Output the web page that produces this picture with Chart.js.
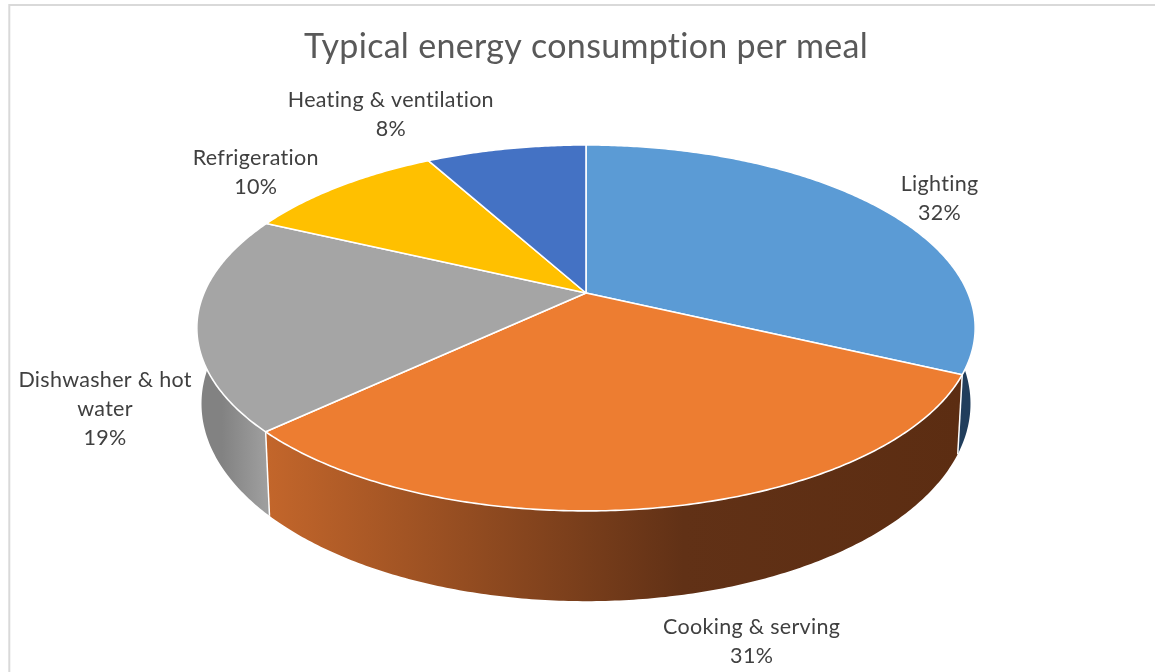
<!DOCTYPE html>
<html><head><meta charset="utf-8">
<script src="https://cdn.jsdelivr.net/npm/chart.js@4.4.0/dist/chart.umd.min.js"></script>
<style>html,body{margin:0;padding:0;background:#fff;}#wrap{position:relative;width:1155px;height:672px;}</style>
</head><body><div id="wrap"><canvas id="c" width="1155" height="672"></canvas></div>
<script>
const categories = ['Lighting', 'Cooking & serving', 'Dishwasher & hot water', 'Refrigeration', 'Heating & ventilation'];
const shares = [32, 31, 19, 10, 8];
const chartTitle = 'Typical energy consumption per meal';

const topColors = ['#5B9BD5', '#ED7D31', '#A5A5A5', '#FFC000', '#4472C4'];
const wallStops = [
  [[0, '#213e5c']],
  [[0, '#5c2d12'], [0.4, '#613116'], [1, '#c3662b']],
  [[0, '#9e9e9e'], [1, '#828282']],
  [[0, '#b08800']],
  [[0, '#2f5290']]
];
const labelOffsets = [[61, -16], [92, 126], [-92, 66], [-84, -21], [-115, -42]];

function proj(g, th, r, bottom) {
  const c = Math.cos(th) * r, sn = Math.sin(th) * r;
  const s = 1 / (1 - g.k * sn);
  let x = g.cx + g.A * c * s, y = g.cy + g.B * sn * s;
  if (bottom) { x = g.cx + (x - g.cx) * g.shrink; y += g.D * s; }
  return { x, y };
}

function wrapText(ctx, text, maxW) {
  const words = text.split(' ');
  const lines = [];
  let cur = '';
  words.forEach(w => {
    const t = cur ? cur + ' ' + w : w;
    if (cur && ctx.measureText(t).width > maxW) { lines.push(cur); cur = w; } else cur = t;
  });
  if (cur) lines.push(cur);
  return lines;
}

const pie3d = {
  id: 'pie3d',
  beforeDraw(chart, args, opts) {
    const ctx = chart.ctx;
    ctx.save();
    ctx.fillStyle = '#fff';
    ctx.fillRect(0, 0, chart.width, chart.height);
    ctx.strokeStyle = '#d9d9d9';
    ctx.lineWidth = 2;
    ctx.beginPath();
    ctx.moveTo(9.3, chart.height);
    ctx.lineTo(9.3, 5);
    ctx.lineTo(chart.width, 5);
    ctx.stroke();
    ctx.restore();
    ctx.letterSpacing = opts.letterSpacing;
  },
  geom(chart, opts) {
    const arcs = chart.getDatasetMeta(0).data;
    const R = arcs[0].outerRadius;
    return { cx: arcs[0].x, cy: arcs[0].y, A: R * opts.rx, B: R * opts.ry, k: opts.persp, D: R * opts.depth, shrink: opts.shrink };
  },
  beforeDatasetsDraw(chart, args, opts) {
    const ctx = chart.ctx;
    const arcs = chart.getDatasetMeta(0).data;
    const g = pie3d.geom(chart, opts);
    const lo = opts.wallFrom * Math.PI / 180, hi = opts.wallTo * Math.PI / 180;
    ctx.save();
    arcs.forEach((a, i) => {
      const a0 = Math.max(a.startAngle, lo), a1 = Math.min(a.endAngle, hi);
      if (a1 <= a0) return;
      const n = Math.max(8, Math.ceil((a1 - a0) / 0.01));
      ctx.beginPath();
      for (let j = 0; j <= n; j++) { const p = proj(g, a0 + (a1 - a0) * j / n, 1, false); j ? ctx.lineTo(p.x, p.y) : ctx.moveTo(p.x, p.y); }
      for (let j = n; j >= 0; j--) { const p = proj(g, a0 + (a1 - a0) * j / n, 1, true); ctx.lineTo(p.x, p.y); }
      ctx.closePath();
      const stops = wallStops[i];
      if (stops.length < 2) {
        ctx.fillStyle = stops[0][1];
      } else {
        const pA = proj(g, a0, 1, false), pB = proj(g, a1, 1, false);
        const grad = ctx.createLinearGradient(pA.x, 0, pB.x, 0);
        stops.forEach(([f, c]) => grad.addColorStop(f, c));
        ctx.fillStyle = grad;
      }
      ctx.fill();
    });
    ctx.strokeStyle = '#ffffff';
    ctx.lineWidth = 1.5;
    arcs.forEach(a => {
      const t = a.startAngle;
      if (t > lo && t < hi) {
        const p = proj(g, t, 1, false), q = proj(g, t, 1, true);
        ctx.beginPath(); ctx.moveTo(p.x, p.y); ctx.lineTo(q.x, q.y); ctx.stroke();
      }
    });
    arcs.forEach((a, i) => {
      const a0 = a.startAngle, a1 = a.endAngle;
      const n = Math.max(8, Math.ceil((a1 - a0) / 0.01));
      ctx.beginPath();
      ctx.moveTo(g.cx, g.cy);
      for (let j = 0; j <= n; j++) { const p = proj(g, a0 + (a1 - a0) * j / n, 1, false); ctx.lineTo(p.x, p.y); }
      ctx.closePath();
      ctx.fillStyle = a.options.backgroundColor;
      ctx.fill();
      ctx.strokeStyle = '#ffffff';
      ctx.lineWidth = 1.6;
      ctx.lineJoin = 'round';
      ctx.stroke();
    });
    ctx.restore();
    return false;
  },
  afterDraw(chart, args, opts) {
    const ctx = chart.ctx;
    const arcs = chart.getDatasetMeta(0).data;
    const g = pie3d.geom(chart, opts);
    const vals = chart.data.datasets[0].data;
    const total = vals.reduce((s, v) => s + v, 0);
    ctx.save();
    ctx.font = opts.labelFont;
    ctx.fillStyle = '#404040';
    ctx.textAlign = 'center';
    ctx.textBaseline = 'alphabetic';
    arcs.forEach((a, i) => {
      const mid = (a.startAngle + a.endAngle) / 2;
      const p = proj(g, mid, 1, false);
      const lines = wrapText(ctx, chart.data.labels[i], opts.labelWrap);
      lines.push(Math.round(vals[i] / total * 100) + '%');
      const x = p.x + labelOffsets[i][0], y = p.y + labelOffsets[i][1];
      lines.forEach((l, j) => ctx.fillText(l, x, y + j * opts.lineHeight));
    });
    ctx.restore();
  }
};

new Chart(document.getElementById('c'), {
  type: 'pie',
  data: {
    labels: categories,
    datasets: [{ data: shares, backgroundColor: topColors, borderWidth: 0, radius: 176 }]
  },
  options: {
    responsive: false,
    animation: false,
    events: [],
    layout: { padding: { left: 17, right: 0, top: 0, bottom: 203 } },
    plugins: {
      legend: { display: false },
      tooltip: { enabled: false },
      title: {
        display: true,
        text: chartTitle,
        color: '#595959',
        font: { family: 'Lato', size: 34, weight: 'normal', lineHeight: 1.2 },
        padding: { top: 27, bottom: 49.2 }
      },
      pie3d: {
        rx: 382 / 176, ry: 176.3 / 176, persp: 0.191, depth: 73 / 176, shrink: 0.988,
        wallFrom: -10, wallTo: 190, letterSpacing: '0.3px',
        labelFont: '21.5px Lato', labelWrap: 218, lineHeight: 29
      }
    }
  },
  plugins: [pie3d]
});
</script>
</body></html>
